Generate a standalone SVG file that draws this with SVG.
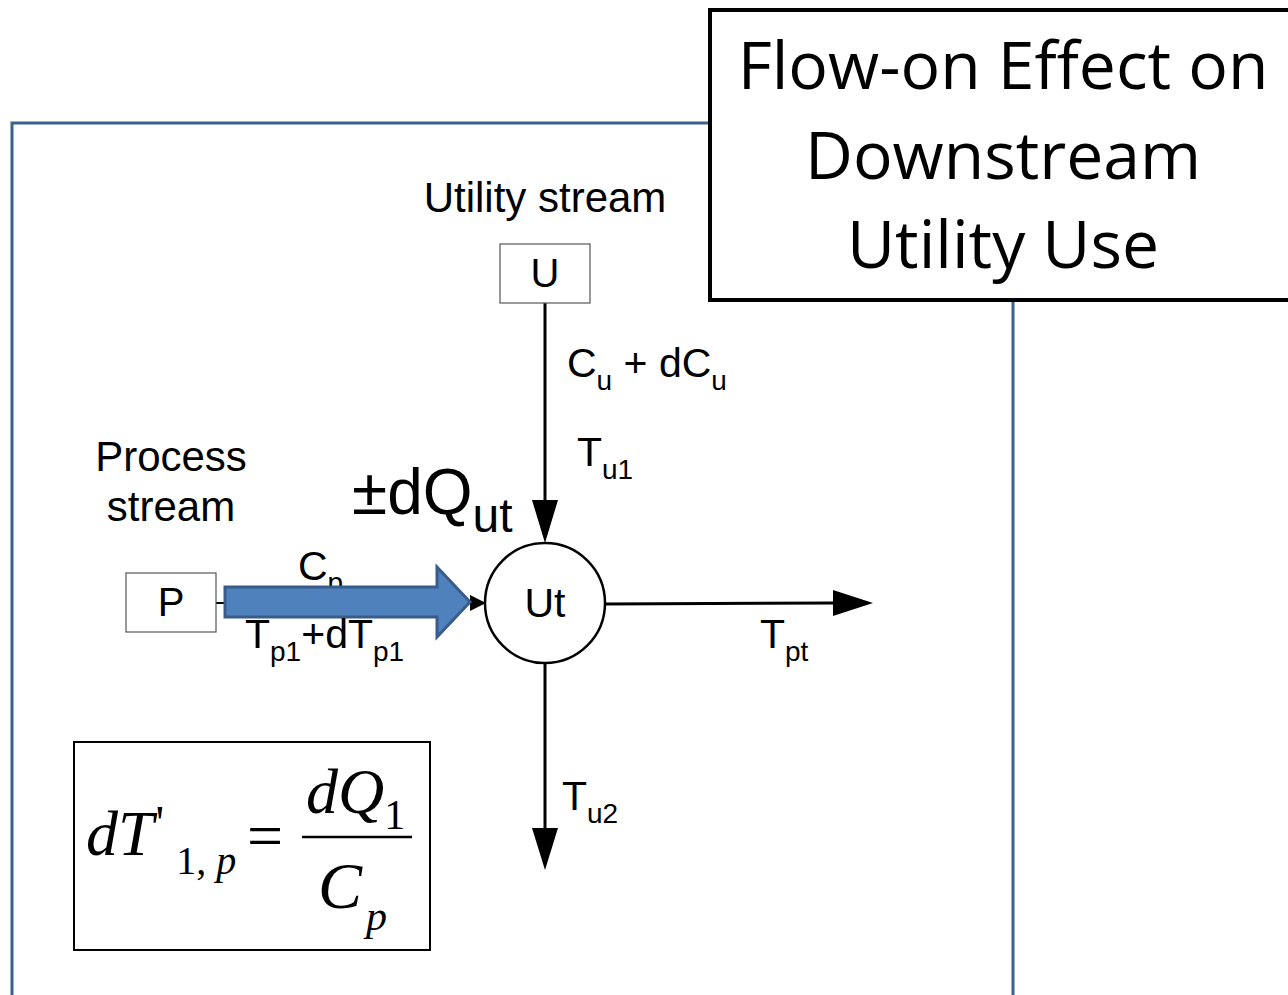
<svg xmlns="http://www.w3.org/2000/svg" width="1288" height="995" viewBox="0 0 1288 995">
<style>
.frame{fill:none;stroke:#3b6190;stroke-width:3}
.box{fill:#fff;stroke:#555;stroke-width:1.2}
.line{fill:none;stroke:#000;stroke-width:3}
.t{font-family:"Liberation Sans",Arial,sans-serif;fill:#000}
.m{font-family:"Liberation Serif","Times New Roman",serif;font-style:italic;fill:#000}
.r{font-family:"Liberation Serif","Times New Roman",serif;fill:#000}
.title{font-family:"Open Sans","Noto Sans",sans-serif;font-size:66px;fill:#000;text-anchor:middle}
</style>
<defs>
<marker id="ah" markerWidth="14" markerHeight="10" refX="14" refY="5" orient="auto" markerUnits="userSpaceOnUse" viewBox="0 0 14 10">
<path d="M0,0 L14,5 L0,10 Z" fill="#000"/>
</marker>
</defs>
<rect width="1288" height="995" fill="#fff"/>
<g id="frame">
<polyline class="frame" points="710,123 12,123 12,995"/>
<line class="frame" x1="1013" y1="300" x2="1013" y2="995"/>
</g>
<g id="connectors">
<line class="line" x1="545" y1="303" x2="545" y2="505"/>
<polygon points="532,500 558,500 545,543" fill="#000"/>
<line class="line" x1="605" y1="604" x2="835" y2="603"/>
<polygon points="833,590 873,603 833,616" fill="#000"/>
<line class="line" x1="545" y1="663" x2="545" y2="830"/>
<polygon points="532,828 558,828 545,870" fill="#000"/>
<line x1="216" y1="603" x2="472" y2="603" stroke="#000" stroke-width="2" marker-end="url(#ah)"/>
<polygon points="470,595 486,603 470,611" fill="#000"/>
</g>
<g id="node-U">
<rect class="box" x="500" y="244" width="90" height="59"/>
<text class="t" x="545" y="287" font-size="40" text-anchor="middle">U</text>
</g>
<g id="node-P">
<rect class="box" x="126" y="573" width="90" height="59"/>
<text class="t" x="171" y="616" font-size="40" text-anchor="middle">P</text>
</g>
<g id="node-Ut">
<circle cx="545" cy="603" r="60" fill="#fff" stroke="#000" stroke-width="2.5"/>
<text class="t" x="545" y="617" font-size="41" text-anchor="middle">Ut</text>
</g>
<g id="labels">
<text class="t" x="545" y="212" font-size="42" text-anchor="middle">Utility stream</text>
<text class="t" x="171" y="471" font-size="42" text-anchor="middle">Process</text>
<text class="t" x="171" y="521" font-size="42" text-anchor="middle">stream</text>
<text class="t" x="567" y="377" font-size="41">C<tspan font-size="28" dy="13">u</tspan><tspan dy="-13"> + dC</tspan><tspan font-size="28" dy="13">u</tspan></text>
<text class="t" x="577" y="466" font-size="41">T<tspan font-size="28" dy="13">u1</tspan></text>
<text class="t" x="352" y="514" font-size="64">±dQ<tspan font-size="48" dy="18">ut</tspan></text>
<text class="t" x="298" y="580" font-size="41">C<tspan font-size="28" dy="12">p</tspan></text>
<text class="t" x="760" y="648" font-size="41">T<tspan font-size="28" dy="13">pt</tspan></text>
<text class="t" x="562" y="810" font-size="41">T<tspan font-size="28" dy="13">u2</tspan></text>
</g>
<g id="blue-arrow">
<polygon points="225,587 437,587 437,567 470,602 437,637 437,617 225,617" fill="#4f81bd" stroke="#385d8a" stroke-width="3"/>
</g>
<text class="t" x="245" y="648" font-size="41">T<tspan font-size="28" dy="13">p1</tspan><tspan dy="-13">+dT</tspan><tspan font-size="28" dy="13">p1</tspan></text>
<g id="formula">
<rect x="74" y="742" width="356" height="208" fill="#fff" stroke="#000" stroke-width="2"/>
<text class="m" x="86" y="855" font-size="64">dT<tspan font-style="normal" font-size="48" dx="2" dy="-16">'</tspan><tspan font-style="normal" font-size="40" dx="12" dy="35">1, </tspan><tspan font-size="40">p</tspan></text>
<text class="r" x="247" y="857" font-size="64">=</text>
<line x1="302" y1="837" x2="412" y2="837" stroke="#000" stroke-width="2.5"/>
<text class="m" x="306" y="813" font-size="64">dQ<tspan font-style="normal" font-size="42" dy="16">1</tspan></text>
<text class="m" x="318" y="908" font-size="66">C<tspan font-size="42" dx="4" dy="22">p</tspan></text>
</g>
<g id="title">
<rect x="710" y="10" width="590" height="290" fill="#fff" stroke="#000" stroke-width="4"/>
<text class="title" x="1003" y="89">Flow-on Effect on</text>
<text class="title" x="1003" y="179">Downstream</text>
<text class="title" x="1003" y="268">Utility Use</text>
</g>
</svg>
